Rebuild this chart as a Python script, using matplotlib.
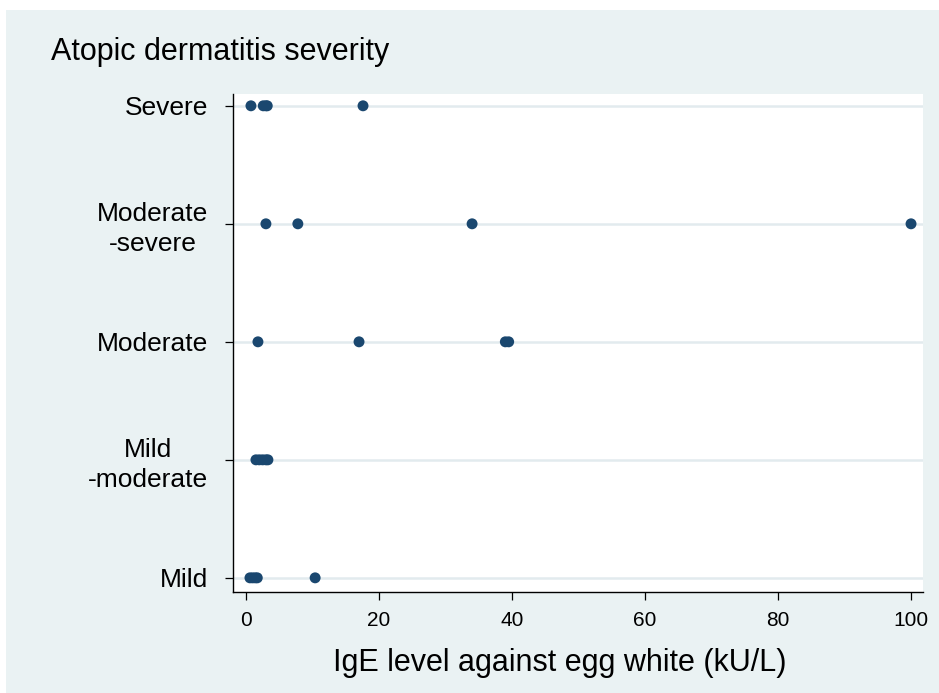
import numpy as np
import matplotlib
matplotlib.use('Agg')
import matplotlib.pyplot as plt

plt.rcParams['font.family'] = ['Liberation Sans', 'DejaVu Sans']

# data (IgE kU/L per severity group)
categories = ['Mild', 'Mild\n-moderate', 'Moderate', 'Moderate\n-severe', 'Severe']
mild = [0.6, 1.0, 1.4, 1.7, 10.4]
mild_moderate = [1.5, 2.0, 2.5, 3.0, 3.3]
moderate = [1.8, 17.0, 39.0, 39.5]
moderate_severe = [3.0, 7.8, 34.0, 100.0]
severe = [0.75, 2.6, 3.0, 3.2, 17.6]
groups = [mild, mild_moderate, moderate, moderate_severe, severe]
xticks = [0, 20, 40, 60, 80, 100]

bg = '#eaf2f3'
navy = '#1a476f'

fig = plt.figure(figsize=(9.39, 6.93), dpi=100)
fig.patch.set_facecolor('white')
fig.patches.append(plt.Rectangle((6 / 939, 0), 1, 1 - 10 / 693, transform=fig.transFigure,
                                 facecolor=bg, edgecolor='none', zorder=-10))

ax = fig.add_axes([233 / 939, 1 - 592 / 693, (923 - 233) / 939, (592 - 94) / 693])
ax.set_facecolor('white')

for i, vals in enumerate(groups):
    ax.axhline(i, color='#e2ebee', lw=1.8, zorder=1)
    ax.scatter(vals, [i] * len(vals), s=62, color=navy, edgecolors='none', zorder=3)

ax.set_xlim(-1.95, 101.8)
ax.set_ylim(-0.12, 4.1)
ax.set_xticks(xticks)
ax.set_yticks(range(len(categories)))
ax.set_yticklabels(categories, fontsize=19, multialignment='center', linespacing=1.3)
ax.tick_params(axis='x', labelsize=15, length=6, width=0.9, pad=8, direction='out')
ax.tick_params(axis='y', length=6, width=0.9, pad=12, direction='out')

for s in ['top', 'right']:
    ax.spines[s].set_visible(False)
for s in ['left', 'bottom']:
    ax.spines[s].set_linewidth(1.0)

ax.set_xlabel('IgE level against egg white (kU/L)', fontsize=22)
ax.xaxis.set_label_coords(0.474, -0.143)
ax.xaxis.label.set_va('center')

fig.text(51 / 939, 1 - 52 / 693, 'Atopic dermatitis severity', fontsize=22, ha='left', va='center')

fig.savefig('out.png', dpi=100, facecolor='white')
